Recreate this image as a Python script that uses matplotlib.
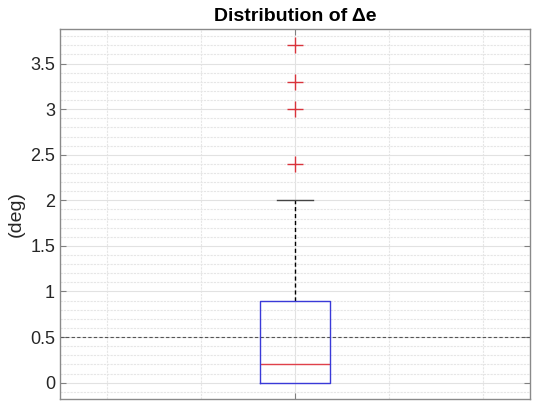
import matplotlib
matplotlib.use("Agg")
import matplotlib.pyplot as plt
import numpy as np

plt.rcParams["font.family"] = ["Liberation Sans", "DejaVu Sans"]

# box statistics (deg)
q1: float = 0.0
median: float = 0.2
q3: float = 0.9
whisker_low: float = 0.0
whisker_high: float = 2.0
outliers: list[float] = [2.4, 3.0, 3.3, 3.7]
threshold: float = 0.5

stats = [{
    "med": median, "q1": q1, "q3": q3,
    "whislo": whisker_low, "whishi": whisker_high,
    "fliers": outliers, "label": "",
}]

fig = plt.figure(figsize=(5.5, 4.08), dpi=100)
ax = fig.add_axes([0.109, 0.022, 0.855, 0.907])

parts = ax.bxp(stats, positions=[1.0], widths=0.15, showfliers=True, manage_ticks=False,
               boxprops=dict(color="#3a3ad8", linewidth=1.0),
               medianprops=dict(color="#e0404a", linewidth=1.0),
               whiskerprops=dict(color="black", linewidth=1.0, linestyle=(0, (3, 2))),
               capprops=dict(color="#444444", linewidth=1.0),
               capwidths=0.075,
               flierprops=dict(marker="+", markeredgecolor="#d9343c", markersize=11,
                               markeredgewidth=1.0, linestyle="none"))
# lower whisker coincides with the box bottom, so its cap is hidden behind it
parts["caps"][0].set_visible(False)
for b in parts["boxes"]:
    b.set_zorder(3)

ax.axhline(threshold, color="#555555", linewidth=0.8, linestyle=(0, (3, 2)), zorder=1.5)

# grid (MATLAB style: major solid, minor dotted)
ax.set_axisbelow(True)
ax.set_xticks([1.0])
ax.set_xticks([0.6, 0.8, 1.2, 1.4], minor=True)
ax.set_yticks(np.arange(0, 3.6, 0.5))
ax.set_yticks(np.arange(-0.1, 3.9, 0.1), minor=True)
ax.grid(True, which="major", color="#e2e2e2", linewidth=0.8, linestyle="-")
ax.grid(True, which="minor", color="#e6e6e6", linewidth=0.8, linestyle=(0, (2, 1)))

ax.set_xlim(0.5, 1.5)
ax.set_ylim(-0.18, 3.88)
ax.set_xticklabels([""])
ax.set_yticklabels(["0", "0.5", "1", "1.5", "2", "2.5", "3", "3.5"])
ax.tick_params(axis="both", which="major", direction="in", length=4,
               color="#808080", labelsize=13, labelcolor="#262626",
               top=True, right=True)
ax.tick_params(axis="both", which="minor", length=0)
for s in ax.spines.values():
    s.set_color("#8a8a8a")
    s.set_linewidth(1.0)

ax.set_title("Distribution of \u0394e", fontsize=14, fontweight="bold", pad=6)
ax.set_ylabel("(deg)", fontsize=14, labelpad=4, color="#262626")

fig.savefig("out.png", dpi=100)
